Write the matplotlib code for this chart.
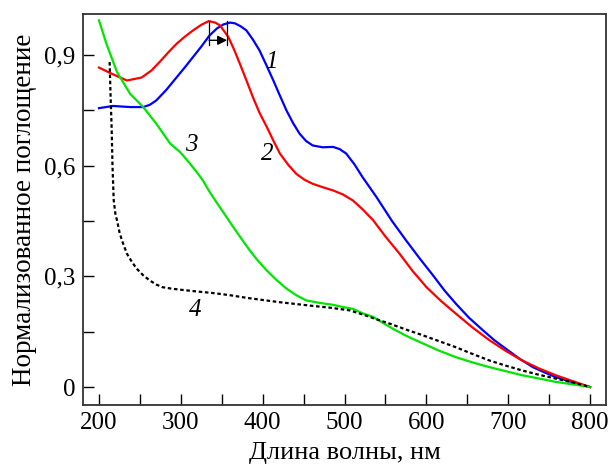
import numpy as np
import matplotlib
matplotlib.use('Agg')
import matplotlib.pyplot as plt
from matplotlib.ticker import MultipleLocator, FuncFormatter

plt.rcParams['font.family'] = ['Liberation Serif', 'DejaVu Serif']

# 1 - синяя, 2 - красная, 3 - зелёная, 4 - пунктир
wl_1 = [200, 217, 238, 254, 262, 270, 282, 295, 305, 315, 325, 335, 344, 352, 360, 366,
        373, 380, 388, 396, 404, 413, 421, 429, 437, 445, 453, 461, 473, 486, 494, 502,
        512, 522, 539, 558, 575, 592, 608, 622, 636, 652, 669, 683, 697, 713, 730, 744,
        758, 780, 800]
abs_1 = [0.756, 0.762, 0.759, 0.759, 0.765, 0.777, 0.805, 0.840, 0.867, 0.895, 0.923,
         0.953, 0.972, 0.983, 0.988, 0.986, 0.978, 0.967, 0.942, 0.913, 0.875, 0.831,
         0.790, 0.750, 0.716, 0.687, 0.667, 0.655, 0.650, 0.651, 0.645, 0.633, 0.604,
         0.569, 0.515, 0.450, 0.398, 0.348, 0.303, 0.262, 0.226, 0.188, 0.154, 0.127,
         0.104, 0.078, 0.054, 0.040, 0.027, 0.012, 0.0]

wl_2 = [200, 215, 234, 252, 264, 274, 285, 295, 305, 315, 325, 334, 342, 348, 358, 365,
        372, 380, 388, 396, 405, 413, 421, 431, 441, 451, 461, 473, 486, 498, 510, 522,
        535, 550, 567, 583, 600, 618, 636, 656, 677, 697, 717, 738, 758, 780, 800]
abs_2 = [0.866, 0.850, 0.831, 0.839, 0.858, 0.881, 0.908, 0.931, 0.950, 0.967, 0.982,
         0.992, 0.988, 0.980, 0.949, 0.915, 0.877, 0.832, 0.786, 0.744, 0.705, 0.668,
         0.633, 0.603, 0.578, 0.562, 0.551, 0.542, 0.533, 0.522, 0.506, 0.482, 0.452,
         0.408, 0.362, 0.315, 0.271, 0.233, 0.199, 0.162, 0.127, 0.098, 0.072, 0.050,
         0.032, 0.015, 0.0]

wl_3 = [200, 209, 222, 238, 254, 270, 287, 299, 305, 311, 319, 327, 334, 342, 353, 364,
        374, 384, 394, 405, 417, 429, 441, 453, 470, 486, 498, 510, 522, 535, 547, 559,
        577, 596, 615, 636, 656, 677, 697, 717, 738, 758, 780, 800]
abs_3 = [0.994, 0.931, 0.854, 0.795, 0.759, 0.714, 0.660, 0.637, 0.622, 0.606, 0.584,
         0.560, 0.533, 0.506, 0.470, 0.434, 0.402, 0.371, 0.343, 0.316, 0.290, 0.267,
         0.249, 0.235, 0.228, 0.223, 0.217, 0.212, 0.200, 0.190, 0.174, 0.158, 0.137,
         0.118, 0.099, 0.081, 0.067, 0.054, 0.043, 0.032, 0.023, 0.014, 0.007, 0.0]

wl_4 = [213, 214, 215.5, 216.5, 218, 220, 222, 225, 228, 234, 240, 246, 254, 262, 270,
        277, 288, 299, 320, 339, 360, 380, 400, 421, 441, 461, 483, 506, 526, 540, 555,
        575, 596, 616, 636, 656, 677, 697, 717, 738, 758, 780, 800]
abs_4 = [0.881, 0.800, 0.700, 0.600, 0.506, 0.470, 0.452, 0.420, 0.398, 0.362, 0.340,
         0.321, 0.303, 0.289, 0.278, 0.271, 0.267, 0.264, 0.259, 0.255, 0.249, 0.242,
         0.236, 0.230, 0.225, 0.220, 0.215, 0.208, 0.194, 0.183, 0.172, 0.156, 0.140,
         0.124, 0.108, 0.090, 0.072, 0.058, 0.045, 0.033, 0.023, 0.012, 0.0]

# положения максимумов для стрелки сдвига
peak_2, peak_1 = 334.5, 356.5

fig = plt.figure(figsize=(6.12, 4.70), dpi=100)
ax = fig.add_axes([0.135, 0.138, 0.856, 0.832])

ax.plot(wl_1, abs_1, color='#0000ff', lw=1.6)
ax.plot(wl_2, abs_2, color='#ff0000', lw=1.6)
ax.plot(wl_3, abs_3, color='#00e600', lw=1.6)
ax.plot(wl_4, abs_4, color='black', lw=1.6, linestyle=(0, (1.6, 1.2)))

# стрелка сдвига максимума
for xp in (peak_2, peak_1):
    ax.plot([xp, xp], [0.926, 0.993], color='black', lw=0.9)
ax.annotate('', xy=(peak_1, 0.940), xytext=(peak_2, 0.940),
            arrowprops=dict(arrowstyle='-|>', color='black', lw=1.0,
                            mutation_scale=14, shrinkA=0, shrinkB=0))

for txt, xt, yt in [('1', 411, 0.880), ('2', 406, 0.633), ('3', 313, 0.655), ('4', 317, 0.208)]:
    ax.text(xt, yt, txt, fontsize=18, style='italic', ha='center', va='center')

ax.set_xlim(180, 820)
ax.set_ylim(-0.049, 1.011)
ax.xaxis.set_major_locator(MultipleLocator(100))
ax.xaxis.set_minor_locator(MultipleLocator(50))
ax.yaxis.set_major_locator(MultipleLocator(0.3))
ax.yaxis.set_minor_locator(MultipleLocator(0.15))
ax.yaxis.set_major_formatter(FuncFormatter(lambda v, p: '0' if abs(v) < 1e-9 else f'{v:.1f}'.replace('.', ',')))

ax.tick_params(which='both', direction='in', length=8, width=1.0, labelsize=18, pad=5)
ax.tick_params(axis='x', which='both', pad=5)
for sp in ax.spines.values():
    sp.set_linewidth(1.3)
    sp.set_color('#333333')

ax.set_xlabel('Длина волны, нм', fontsize=19, labelpad=5.5)
ax.set_ylabel('Нормализованное поглощение', fontsize=19.5, labelpad=5)

fig.savefig('out.png', dpi=100)
